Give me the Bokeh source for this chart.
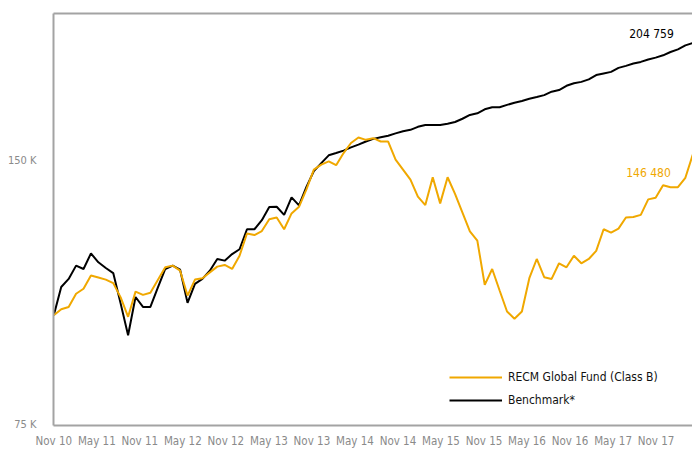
from bokeh.plotting import figure
from bokeh.models import Range1d, FixedTicker, LinearAxis, Legend, LegendItem, Label
from bokeh.embed import file_html
from bokeh.resources import INLINE

# ---- data (values in thousands, monthly from Nov 2010) ----
BENCHMARK = [100.0, 107.7, 110.0, 113.9, 112.9, 117.6, 114.9, 113.2, 111.7, 103.1,
             94.9, 104.9, 102.2, 102.2, 107.5, 112.9, 113.9, 112.7, 103.3, 108.6,
             110.0, 112.4, 115.9, 115.4, 117.4, 118.9, 125.3, 125.3, 128.3, 132.8,
             132.9, 130.1, 136.2, 133.4, 140.0, 145.9, 149.0, 152.1, 153.0, 154.0,
             155.3, 156.4, 157.7, 158.8, 159.5, 160.1, 161.1, 162.0, 162.6, 163.9,
             164.7, 164.7, 164.7, 165.2, 166.0, 167.4, 169.1, 169.8, 171.6, 172.5,
             172.5, 173.6, 174.6, 175.4, 176.4, 177.2, 178.1, 179.7, 180.5, 182.5,
             183.7, 184.4, 185.6, 187.7, 188.5, 189.3, 191.3, 192.3, 193.5, 194.3,
             195.5, 196.5, 197.7, 199.4, 200.8, 202.9, 204.2]
FUND = [100.0, 101.6, 102.2, 105.8, 107.2, 111.0, 110.4, 109.8, 108.8, 104.8,
        99.6, 106.4, 105.5, 106.1, 109.7, 113.4, 113.9, 112.4, 105.3, 109.8,
        110.2, 111.9, 113.6, 114.1, 112.9, 116.9, 123.9, 123.4, 124.7, 128.6,
        129.2, 125.3, 130.6, 132.9, 139.1, 146.5, 148.4, 149.7, 148.2, 153.0,
        157.1, 159.4, 158.4, 159.1, 157.7, 157.7, 150.4, 146.5, 142.7, 136.5,
        133.5, 143.6, 134.1, 143.6, 137.5, 130.9, 124.6, 121.6, 108.3, 112.9,
        106.7, 101.0, 99.1, 101.0, 110.2, 115.9, 110.5, 110.0, 114.6, 113.4,
        116.9, 114.6, 115.9, 118.4, 125.3, 124.2, 125.5, 129.2, 129.4, 130.1,
        135.5, 136.1, 140.6, 139.9, 139.9, 143.4, 152.4]
MONTHS = list(range(len(FUND)))

X_TICK_LABELS = ["Nov 10", "May 11", "Nov 11", "May 12", "Nov 12", "May 13", "Nov 13",
                 "May 14", "Nov 14", "May 15", "Nov 15", "May 16", "Nov 16", "May 17", "Nov 17"]
MONTHS_PER_LABEL = 5.79
Y_TICKS = [75, 150]
Y_TICK_LABELS = ["75 K", "150 K"]

FUND_NAME = "RECM Global Fund (Class B)"
BENCH_NAME = "Benchmark*"
FUND_END_VALUE = 146.480
BENCH_END_VALUE = 204.759
FUND_END_TEXT = "146 480"
BENCH_END_TEXT = "204 759"

ORANGE = "#F0A800"
GRAY = "#a3a3a3"
FONT = "'DejaVu Sans Condensed', 'DejaVu Sans', sans-serif"

p = figure(width=692, height=450, y_axis_type="log",
           x_range=Range1d(-0.04, 85.96), y_range=Range1d(74.9, 220.6),
           output_backend="svg", toolbar_location=None,
           min_border_left=53, min_border_right=0, min_border_top=13, min_border_bottom=24)
p.outline_line_color = None
p.xgrid.visible = False
p.ygrid.visible = False
p.background_fill_color = "white"
p.border_fill_color = "white"

bench_r = p.line(MONTHS, BENCHMARK, line_color="black", line_width=2)
fund_r = p.line(MONTHS, FUND, line_color=ORANGE, line_width=2)

# axes
x_ticks = [round(k * MONTHS_PER_LABEL, 3) for k in range(len(X_TICK_LABELS))]
p.xaxis.ticker = FixedTicker(ticks=x_ticks)
p.xaxis.major_label_overrides = {t: lab for t, lab in zip(x_ticks, X_TICK_LABELS)}
p.yaxis.ticker = FixedTicker(ticks=Y_TICKS)
p.yaxis.major_label_overrides = {t: lab for t, lab in zip(Y_TICKS, Y_TICK_LABELS)}
for ax in (p.xaxis[0], p.yaxis[0]):
    ax.axis_line_color = GRAY
    ax.axis_line_width = 2
    ax.major_tick_line_color = None
    ax.minor_tick_line_color = None
    ax.major_label_text_font = FONT
    ax.major_label_text_color = "#8a8a8a"
p.xaxis.major_label_text_font_size = "11.5px"
p.yaxis.major_label_text_font_size = "11px"
p.xaxis.major_label_standoff = 2
p.yaxis.major_label_standoff = 11

# top border line
top = LinearAxis(ticker=FixedTicker(ticks=[]), axis_line_color=GRAY, axis_line_width=2,
                 major_tick_line_color=None, minor_tick_line_color=None)
p.add_layout(top, "above")

# end labels
p.add_layout(Label(x=MONTHS[-1], y=BENCH_END_VALUE, text=BENCH_END_TEXT, x_offset=-19, y_offset=8,
                   text_align="right", text_baseline="middle", text_font=FONT,
                   text_font_size="12px", text_color="black"))
p.add_layout(Label(x=MONTHS[-1], y=FUND_END_VALUE, text=FUND_END_TEXT, x_offset=-22, y_offset=-3,
                   text_align="right", text_baseline="middle", text_font=FONT,
                   text_font_size="12px", text_color=ORANGE))

legend = Legend(items=[LegendItem(label=FUND_NAME, renderers=[fund_r]),
                       LegendItem(label=BENCH_NAME, renderers=[bench_r])],
                location=(396, 15), padding=0, margin=0, spacing=3,
                glyph_width=53, glyph_height=20, label_height=20, label_standoff=6,
                background_fill_alpha=0, border_line_alpha=0,
                label_text_font=FONT, label_text_font_size="12px", label_text_color="#111111")
p.add_layout(legend, "center")

open("out.html", "w").write(file_html(p, INLINE))
